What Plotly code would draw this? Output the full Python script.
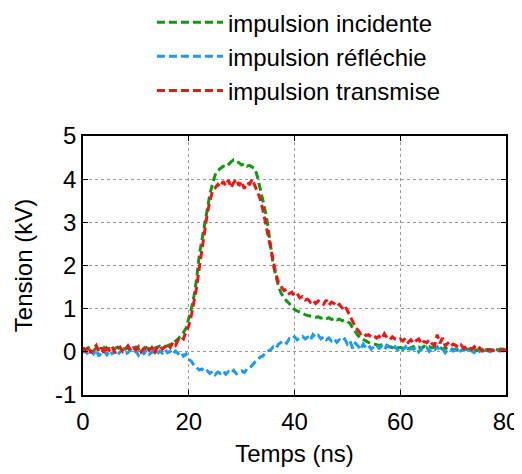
import plotly.graph_objects as go

# sampling time (ns), 0.5 ns step
temps = [i * 0.5 for i in range(161)]

incidente = [
    0.08, 0.05, 0.10, 0.06, 0.03, 0.09, 0.07, 0.04, 0.10, 0.06, 0.08, 0.03, 0.07, 0.11, 0.05, 0.08,
    0.06, 0.09, 0.04, 0.08, 0.11, 0.06, 0.09, 0.05, 0.10, 0.07, 0.12, 0.08, 0.10, 0.13, 0.09, 0.12,
    0.14, 0.17, 0.20, 0.25, 0.30, 0.38, 0.45, 0.55,
    0.75, 1.00, 1.30, 1.70, 2.25, 2.60, 2.95, 3.35, 3.65, 3.90, 4.10, 4.20,
    4.25, 4.30, 4.28, 4.35, 4.40, 4.45, 4.42, 4.38, 4.33, 4.36, 4.30, 4.32, 4.28, 4.25,
    4.05, 3.80, 3.55, 3.25, 2.90, 2.45, 2.00, 1.75, 1.50, 1.35, 1.25, 1.18, 1.12, 1.05,
    0.98, 0.95, 0.92, 0.88, 0.86, 0.84, 0.83, 0.82, 0.80, 0.81, 0.78, 0.80, 0.77, 0.79, 0.75, 0.78,
    0.74, 0.76, 0.72, 0.74,
    0.70, 0.66, 0.55, 0.46, 0.38, 0.32, 0.28, 0.25, 0.22, 0.20, 0.18, 0.17, 0.15, 0.16, 0.13, 0.14,
    0.12, 0.10, 0.13, 0.09,
    0.10, 0.08, 0.11, 0.07, 0.10, 0.12, 0.09, 0.11, 0.08, 0.13, 0.10, 0.12, 0.09, 0.11, 0.08, 0.10,
    0.07, 0.09, 0.06, 0.08, 0.05, 0.07, 0.04, 0.06, 0.08, 0.05, 0.07, 0.04, 0.06, 0.03, 0.05, 0.07,
    0.04, 0.06, 0.05, 0.03, 0.06, 0.04, 0.07, 0.05, 0.06,
]

reflechie = [
    -0.02, 0.03, -0.08, 0.01, -0.05, 0.04, -0.10, -0.01, 0.02, -0.07, 0.03, -0.04, 0.01, -0.09, 0.00, 0.04,
    -0.06, -0.02, 0.05, -0.03, 0.02, -0.08, 0.01, -0.04, 0.03, -0.06, -0.01, 0.04, -0.05, 0.02, -0.03, 0.05,
    -0.02, 0.01, -0.06, 0.02,
    -0.04, 0.00, -0.10, -0.05, -0.18, -0.22, -0.32, -0.36, -0.42, -0.40, -0.47, -0.44,
    -0.50, -0.45, -0.53, -0.47, -0.50, -0.44, -0.52, -0.46, -0.50, -0.43, -0.51, -0.47, -0.44, -0.48, -0.40, -0.38,
    -0.30, -0.24, -0.20, -0.12, -0.10, -0.02, 0.02, 0.05, 0.12, 0.08, 0.18, 0.22, 0.26, 0.20, 0.30, 0.28,
    0.35, 0.28, 0.32, 0.36, 0.30, 0.34, 0.27, 0.40, 0.33, 0.38, 0.30, 0.35, 0.28, 0.32, 0.25, 0.30,
    0.22, 0.28, 0.24, 0.30,
    0.18, 0.25, 0.08, 0.20, 0.14, 0.05, 0.18, 0.10, 0.15, 0.06, 0.12, 0.16, 0.08, 0.13, 0.05, 0.15,
    0.10, 0.07, 0.12, 0.04,
    0.10, 0.05, 0.12, 0.02, 0.08, 0.06, 0.11, 0.00, 0.07, 0.04, 0.10, 0.01, 0.08, 0.05, 0.12, 0.03,
    0.07, -0.02, 0.05, 0.08, 0.02, 0.06, -0.01, 0.04, 0.07, 0.00, 0.05, 0.02, -0.02, 0.04, 0.01, 0.06,
    -0.01, 0.03, 0.00, 0.05, 0.02, 0.01, 0.04, 0.02, 0.03,
]

transmise = [
    0.10, 0.02, 0.12, -0.03, 0.08, 0.15, 0.00, 0.10, -0.05, 0.09, 0.04, 0.13, -0.02, 0.07, 0.11, 0.01,
    0.06, 0.14, 0.03, 0.09, 0.05, 0.12, 0.00, 0.08, 0.13, 0.04, 0.10, -0.04, 0.09, 0.15, 0.06, 0.11,
    0.18, 0.10, 0.22, 0.15, 0.28, 0.35, 0.30, 0.48,
    0.60, 0.85, 1.15, 1.50, 1.95, 2.40, 2.80, 3.20, 3.50, 3.72, 3.80, 3.88,
    3.82, 3.95, 3.85, 3.98, 3.80, 3.92, 4.00, 3.85, 3.95, 3.78, 3.92, 3.88, 4.00, 3.85,
    3.70, 3.55, 3.30, 3.00, 2.70, 2.40, 2.05, 1.80, 1.60, 1.50, 1.42, 1.45, 1.35, 1.38,
    1.30, 1.35, 1.25, 1.28, 1.20, 1.22, 1.15, 1.20, 1.12, 1.18, 1.15, 1.10, 1.20, 1.08, 1.15, 1.12,
    1.05, 1.10, 1.02, 1.08,
    0.95, 0.80, 0.70, 0.58, 0.50, 0.42, 0.45, 0.38, 0.40, 0.35, 0.38, 0.32, 0.36, 0.30, 0.42, 0.33,
    0.28, 0.35, 0.30, 0.27,
    0.30, 0.25, 0.32, 0.22, 0.28, 0.20, 0.26, 0.30, 0.18, 0.24, 0.21, 0.28, 0.19, 0.15, 0.40, 0.20,
    0.32, 0.14, 0.20, 0.12, 0.18, 0.15, 0.10, 0.16, 0.08, 0.13, 0.10, 0.06, 0.12, 0.04, 0.09, 0.02,
    0.07, 0.03, 0.05, 0.02, 0.04, 0.03, 0.02, 0.06, 0.04,
]

y_ticks = [-1, 0, 1, 2, 3, 4, 5]
y_labels = ["-1", "0", "1", "2", "3", "4", "5"]
x_ticks = [0, 20, 40, 60, 80]

assert len(incidente) == len(temps) == len(reflechie) == len(transmise)

series = [
    ("impulsion incidente", incidente, "#109a10"),
    ("impulsion réfléchie", reflechie, "#1e9bf0"),
    ("impulsion transmise", transmise, "#f01414"),
]

fig = go.Figure()
for i, (name, vals, col) in enumerate(series):
    fig.add_trace(go.Scatter(x=temps, y=vals, mode="lines", name=name,
                             legendgroup=str(i),
                             line=dict(color=col, width=3, dash="8px,4px")))

font = "Liberation Sans, Arial, sans-serif"
axis_common = dict(showline=True, linecolor="black", linewidth=1.5, mirror="allticks",
                   ticks="inside", ticklen=5, tickcolor="black",
                   showgrid=True, gridcolor="#999999", griddash="dot", gridwidth=1,
                   zeroline=False, tickfont=dict(size=24, color="black"))

# page body has an 8px margin, so the figure is 8px smaller than the window
fig.update_layout(
    width=514, height=466,
    margin=dict(l=75, r=16, t=128, b=79, autoexpand=False),
    paper_bgcolor="white", plot_bgcolor="white",
    font=dict(family=font, color="black", size=24),
    xaxis=dict(range=[0, 80], tickvals=x_ticks, ticklabelstandoff=4,
               title=dict(text="Temps (ns)", font=dict(size=24), standoff=12),
               **axis_common),
    yaxis=dict(range=[-1, 5], tickvals=y_ticks, ticktext=y_labels,
               title=dict(text="Tension (kV)", font=dict(size=24), standoff=16),
               **axis_common),
    legend=dict(x=0.163, y=1.525, xanchor="left", yanchor="top",
                font=dict(size=24), bgcolor="rgba(0,0,0,0)",
                traceorder="grouped", tracegroupgap=0, itemwidth=66),
)

fig.write_html("out.html")
